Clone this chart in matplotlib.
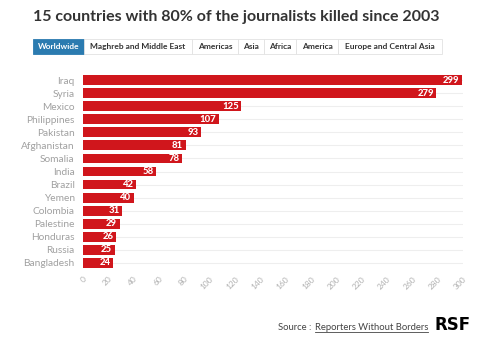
import matplotlib.pyplot as plt
from matplotlib.patches import Rectangle

countries = ['Iraq', 'Syria', 'Mexico', 'Philippines', 'Pakistan', 'Afghanistan',
             'Somalia', 'India', 'Brazil', 'Yemen', 'Colombia', 'Palestine',
             'Honduras', 'Russia', 'Bangladesh']
killed = [299, 279, 125, 107, 93, 81, 78, 58, 42, 40, 31, 29, 26, 25, 24]
tabs = ['Worldwide', 'Maghreb and Middle East', 'Americas', 'Asia', 'Africa',
        'America', 'Europe and Central Asia']
tab_edges = [33, 84, 192, 238, 264, 296, 338, 442]

plt.rcParams['font.family'] = ['Lato', 'DejaVu Sans']

W, H = 500, 346
fig = plt.figure(figsize=(5, 3.46), dpi=100)
ax = fig.add_axes([83 / W, 1 - 269.5 / H, 380 / W, 196 / H])

red = '#d0161c'
y = list(range(len(countries)))
ax.barh(y, killed, height=0.75, color=red, zorder=2)
for yi, v in zip(y, killed):
    ax.text(v - 2, yi, str(v), ha='right', va='center', color='white',
            fontsize=6.8, fontweight='black', zorder=3)

ax.set_xlim(0, 300)
ax.set_ylim(len(countries) - 0.5, -0.5)
ax.set_yticks(y)
ax.set_yticklabels(countries, fontsize=7.3, color='#a0a0a0')
ax.set_xticks(range(0, 301, 20))
ax.set_xticklabels([str(t) for t in range(0, 301, 20)], rotation=45,
                   fontsize=6, color='#b0b0b0', ha='right', rotation_mode='anchor')
ax.tick_params(axis='y', length=0, pad=6)
ax.tick_params(axis='x', length=0, pad=4)
ax.grid(axis='y', color='#eeeeee', linewidth=0.8, zorder=0)
for s in ax.spines.values():
    s.set_visible(False)

fig.text(33 / W, 1 - 17 / H, '15 countries with 80% of the journalists killed since 2003',
         fontsize=11.5, fontweight='bold', color='#333333', va='center')

# tab bar
for i, name in enumerate(tabs):
    x0, x1 = tab_edges[i], tab_edges[i + 1]
    active = i == 0
    fig.patches.append(Rectangle((x0 / W, 1 - 54 / H), (x1 - x0) / W, 15 / H,
                                 transform=fig.transFigure,
                                 facecolor='#2b7bb0' if active else 'white',
                                 edgecolor='#2b7bb0' if active else '#e2e2e2',
                                 linewidth=0.6))
    fig.text((x0 + x1) / 2 / W, 1 - 46.5 / H, name, ha='center', va='center',
             fontsize=6, fontweight='bold',
             color='white' if active else '#333333')

# source line
link = fig.text(428 / W, 1 - 327 / H, 'Reporters Without Borders', fontsize=6.8,
                color='#444444', va='center', ha='right')
fig.canvas.draw()
bb = link.get_window_extent()
fig.text((bb.x0 - 1) / W, 1 - 327 / H, 'Source : ', fontsize=6.8, color='#444444',
         va='center', ha='right')
fig.add_artist(plt.Line2D([bb.x0 / W, bb.x1 / W], [(bb.y0 - 0.5) / H] * 2,
                          transform=fig.transFigure, color='#444444', linewidth=0.6))
fig.text(435 / W, 1 - 325 / H, 'RSF', fontsize=12, fontweight='black',
         color='black', ha='left', va='center', family='DejaVu Sans')

fig.savefig('out.png', dpi=100)
